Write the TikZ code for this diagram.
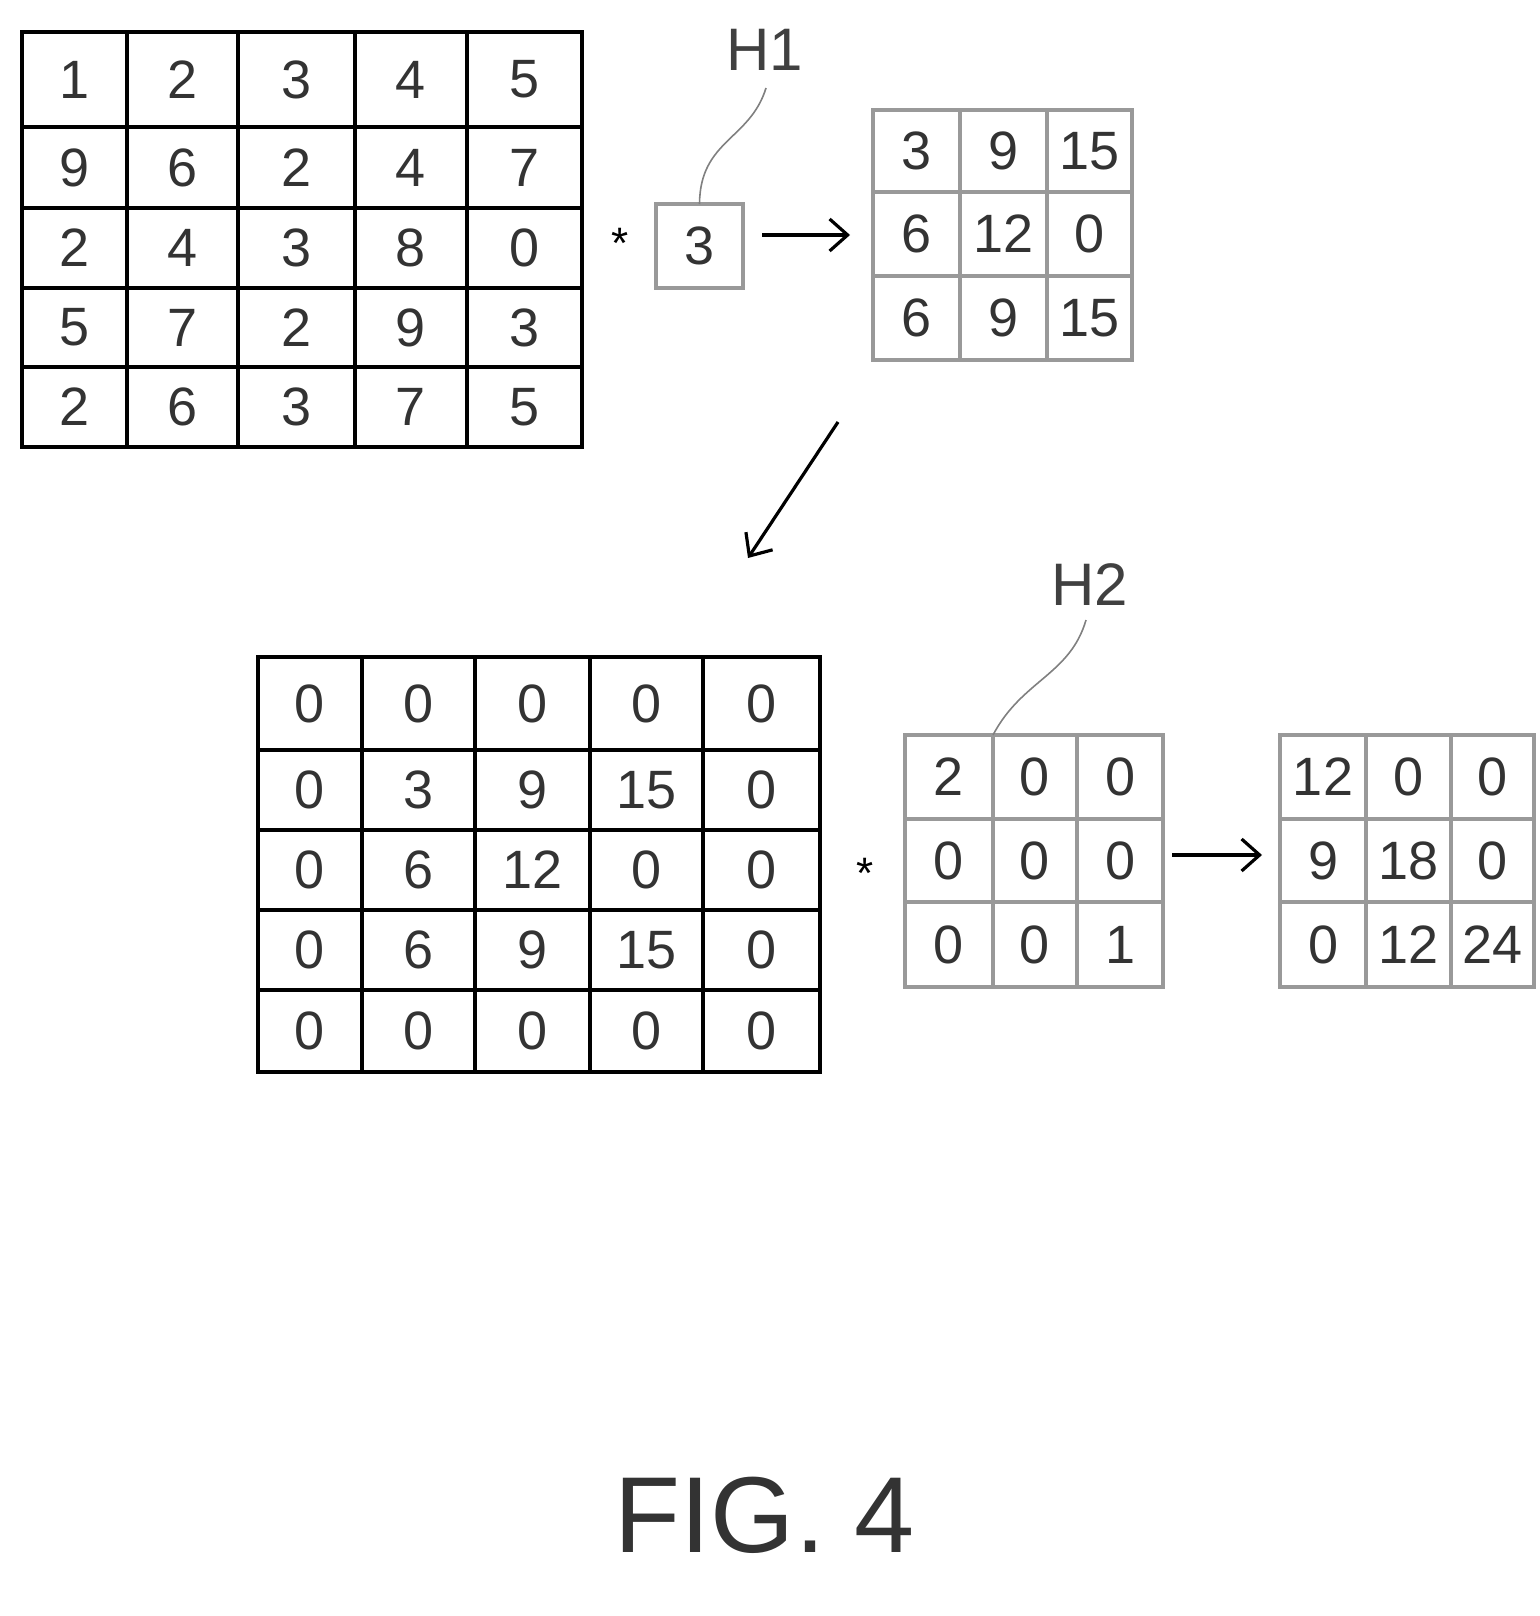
\documentclass[tikz,border=0pt]{standalone}
\usepackage{fontspec}
\setmainfont{Liberation Sans}
\usetikzlibrary{arrows.meta}
\begin{document}
\begin{tikzpicture}[x=0.5pt,y=-0.5pt,
  cell/.style={draw=#1,line width=1.6pt,inner sep=0pt,outer sep=0pt,font=\fontsize{27}{27}\selectfont,text=black!80},
  cell/.default=black,
  arr/.style={line width=1.6pt,-{Straight Barb[length=9pt,width=16pt]}},
  lead/.style={line width=0.8pt,gray}]
\useasboundingbox (0,0) rectangle (1540,1616);
\newcommand\grow[6]{%
 \foreach \v [count=\c] in {#5}{%
  \pgfmathsetmacro\xa{{#2}[\c-1]}\pgfmathsetmacro\xb{{#2}[\c]}%
  \node[cell=#6, minimum width={(\xb-\xa)*0.5pt}, minimum height={(#4-#3)*0.5pt}] (#1c\c) at ({(\xa+\xb)/2},{(#3+#4)/2}) {\v};
 }}
% grid 1
\grow{ga1}{22,127,238,355,467,582}{32}{127}{1,2,3,4,5}{black}
\grow{ga2}{22,127,238,355,467,582}{127}{208}{9,6,2,4,7}{black}
\grow{ga3}{22,127,238,355,467,582}{208}{288}{2,4,3,8,0}{black}
\grow{ga4}{22,127,238,355,467,582}{288}{367}{5,7,2,9,3}{black}
\grow{ga5}{22,127,238,355,467,582}{367}{447}{2,6,3,7,5}{black}
% H1
\node[cell=gray!80, minimum width=43.5pt, minimum height=42pt] (h1) at (699.5,246) {3};
\node[font=\fontsize{22}{22}\selectfont] (st1) at (620,243) {*};
\node[font=\fontsize{30}{30}\selectfont,text=black!75] (lh1) at (765,50) {H1};
\draw[lead] (766,88) .. controls (750,140) and (700,140) .. (h1.north);
\coordinate (a1s) at (762,235); \coordinate (a1e) at (850,235);
\draw[arr] (a1s) -- (a1e);
% grid 2
\grow{gb1}{873,960,1047,1132}{110}{192}{3,9,15}{gray!80}
\grow{gb2}{873,960,1047,1132}{192}{276}{6,12,0}{gray!80}
\grow{gb3}{873,960,1047,1132}{276}{360}{6,9,15}{gray!80}
\coordinate (d1) at (838,422); \coordinate (d2) at (748,558);
\draw[arr] (d1) -- (d2);
% grid 3
\grow{gc1}{258,362,475,590,703,820}{657}{750}{0,0,0,0,0}{black}
\grow{gc2}{258,362,475,590,703,820}{750}{830}{0,3,9,15,0}{black}
\grow{gc3}{258,362,475,590,703,820}{830}{910}{0,6,12,0,0}{black}
\grow{gc4}{258,362,475,590,703,820}{910}{990}{0,6,9,15,0}{black}
\grow{gc5}{258,362,475,590,703,820}{990}{1072}{0,0,0,0,0}{black}
\node[font=\fontsize{22}{22}\selectfont] (st2) at (865,873) {*};
% H2
\grow{gd1}{905,993,1077,1163}{735}{819}{2,0,0}{gray!80}
\grow{gd2}{905,993,1077,1163}{819}{902}{0,0,0}{gray!80}
\grow{gd3}{905,993,1077,1163}{902}{987}{0,0,1}{gray!80}
\node[font=\fontsize{30}{30}\selectfont,text=black!75] (lh2) at (1090,585) {H2};
\draw[lead] (1086,620) .. controls (1070,675) and (1022,680) .. (gd1c2.north west);
\coordinate (a2s) at (1172,855); \coordinate (a2e) at (1262,855);
\draw[arr] (a2s) -- (a2e);
% grid 4
\grow{ge1}{1280,1366,1451,1534}{735}{819}{12,0,0}{gray!80}
\grow{ge2}{1280,1366,1451,1534}{819}{902}{9,18,0}{gray!80}
\grow{ge3}{1280,1366,1451,1534}{902}{987}{0,12,24}{gray!80}
\node[font=\fontsize{54}{54}\selectfont,text=black!80] (fig) at (765,1515) {FIG. 4};
\end{tikzpicture}
\end{document}
